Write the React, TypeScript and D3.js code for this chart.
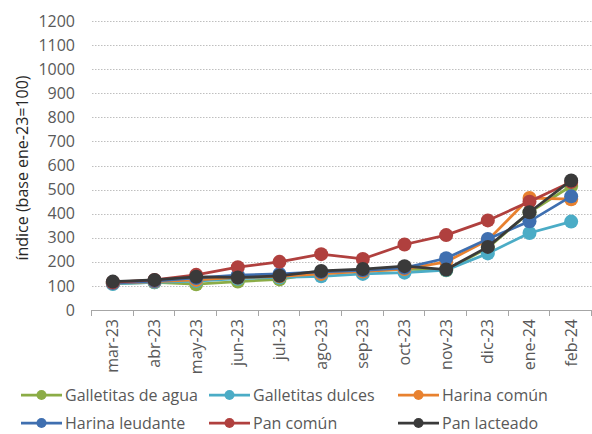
import React from "react";
import * as d3 from "d3";

const months = ["mar-23","abr-23","may-23","jun-23","jul-23","ago-23","sep-23","oct-23","nov-23","dic-23","ene-24","feb-24"];
const yTicks = [0,100,200,300,400,500,600,700,800,900,1000,1100,1200];

const galletitasAgua = [110, 115, 107, 118, 127, 155, 160, 170, 165, 258, 405, 515];
const galletitasDulces = [108, 115, 120, 130, 135, 140, 150, 155, 166, 235, 320, 367];
const harinaComun = [112, 118, 125, 135, 140, 150, 160, 170, 200, 290, 465, 460];
const harinaLeudante = [112, 120, 133, 145, 150, 158, 165, 175, 215, 295, 368, 472];
const panComun = [115, 125, 146, 178, 200, 232, 212, 272, 311, 372, 450, 532];
const panLacteado = [118, 125, 138, 135, 142, 162, 170, 182, 168, 262, 406, 538];

const seriesNames = ["Galletitas de agua","Galletitas dulces","Harina común","Harina leudante","Pan común","Pan lacteado"];
const seriesValues = [galletitasAgua, galletitasDulces, harinaComun, harinaLeudante, panComun, panLacteado];
const seriesColors = ["#8bac46","#4bacc6","#e8812f","#3f6fb0","#b0403e","#3a3a3a"];

const W = 592, H = 434;
const left = 92, right = 592, top = 21, bottom = 310;
const font = "'Open Sans', sans-serif";
const textColor = "#595959";
const fs = 16;

export default function App() {
  const x = d3.scaleBand<string>().domain(months).range([left, right]);
  const y = d3.scaleLinear().domain([0, 1200]).range([bottom, top]);
  const cx = (m: string) => (x(m) as number) + x.bandwidth() / 2;
  const line = d3.line<number>().x((_, i) => cx(months[i])).y(v => y(v));

  const legendCols = [21, 209, 398];
  const legendRows = [395, 423];

  return (
    <svg width={W} height={H} style={{ position: "absolute", left: 0, top: 0, background: "#fff" }}>
      {yTicks.filter(t => t > 0).map(t => (
        <line key={t} x1={left} x2={right} y1={Math.round(y(t)) + 0.5} y2={Math.round(y(t)) + 0.5}
          stroke="#bfbfbf" strokeWidth={1} strokeDasharray="1.5 1.5" />
      ))}
      <line x1={left} x2={right} y1={bottom + 0.5} y2={bottom + 0.5} stroke="#a6a6a6" strokeWidth={1} />
      {[...months.map(m => x(m) as number), right].map((v, i) => (
        <line key={i} x1={Math.round(v) - 0.5} x2={Math.round(v) - 0.5} y1={bottom} y2={bottom + 6} stroke="#a6a6a6" strokeWidth={1} />
      ))}
      {yTicks.map(t => (
        <text key={t} x={75} y={y(t)} dy="0.35em" textAnchor="end" fontFamily={font} fontSize={fs} fill={textColor}>{t}</text>
      ))}
      {months.map(m => (
        <text key={m} transform={`translate(${cx(m)},${bottom + 9}) rotate(-90)`} dy="0.35em" textAnchor="end"
          fontFamily={font} fontSize={fs} fill={textColor}>{m}</text>
      ))}
      <text transform={`translate(22,168) rotate(-90)`} dy="0.35em" textAnchor="middle"
        fontFamily={font} fontSize={fs} fill="#262626">índice (base ene-23=100)</text>
      {seriesValues.map((vals, si) => (
        <g key={si}>
          <path d={line(vals) || ""} fill="none" stroke={seriesColors[si]} strokeWidth={2.75} />
          {vals.map((v, i) => (
            <circle key={i} cx={cx(months[i])} cy={y(v)} r={7} fill={seriesColors[si]} />
          ))}
        </g>
      ))}
      {seriesNames.map((n, i) => {
        const lx = legendCols[i % 3];
        const ly = legendRows[Math.floor(i / 3)];
        return (
          <g key={n}>
            <line x1={lx} x2={lx + 41} y1={ly} y2={ly} stroke={seriesColors[i]} strokeWidth={2.75} />
            <circle cx={lx + 20.5} cy={ly} r={5} fill={seriesColors[i]} />
            <text x={lx + 44} y={ly} dy="0.35em" fontFamily={font} fontSize={fs} fill={textColor}>{n}</text>
          </g>
        );
      })}
    </svg>
  );
}
